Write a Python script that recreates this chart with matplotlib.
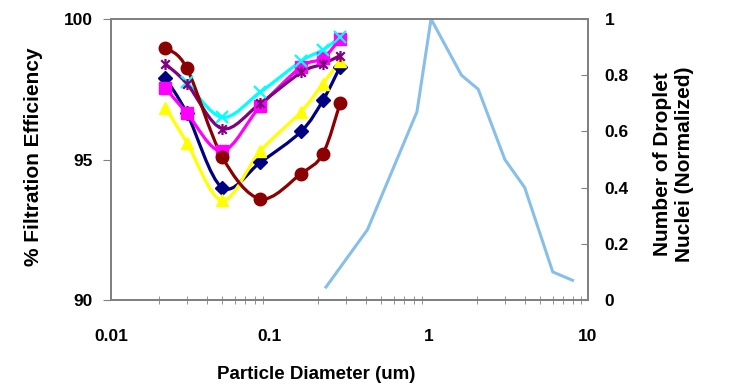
import numpy as np
import matplotlib.pyplot as plt
from matplotlib.path import Path
from matplotlib.patches import PathPatch
from matplotlib.ticker import FixedLocator, LogLocator, NullFormatter

plt.rcParams['font.family'] = ['Liberation Sans', 'DejaVu Sans']
plt.rcParams['font.weight'] = 'bold'

# particle sizes (um) for the filtration curves
diam = [0.022, 0.030, 0.050, 0.087, 0.157, 0.215, 0.276]

eff_navy = [97.9, 96.65, 94.0, 94.9, 96.0, 97.1, 98.3]
eff_magenta = [97.55, 96.65, 95.3, 96.9, 98.3, 98.6, 99.3]
eff_yellow = [96.85, 95.6, 93.55, 95.3, 96.7, 97.7, 98.5]
eff_cyan = [97.75, 96.5, 97.4, 98.5, 98.9, 99.35]   # starts at 2nd size
eff_purple = [98.4, 97.7, 96.1, 97.0, 98.1, 98.4, 98.7]
eff_maroon = [98.97, 98.25, 95.1, 93.6, 94.5, 95.2, 97.0]

# droplet nuclei distribution (right axis)
nuc_d = [0.225, 0.41, 0.84, 1.03, 1.6, 2.04, 3.0, 4.0, 6.0, 8.0]
nuc_n = [0.046, 0.25, 0.67, 1.0, 0.80, 0.75, 0.50, 0.40, 0.10, 0.07]

grey = '#808080'

# asterisk marker like excel: x plus vertical bar
star = Path([(-1, -1), (1, 1), (-1, 1), (1, -1), (0, -1.3), (0, 1.3)],
            [Path.MOVETO, Path.LINETO, Path.MOVETO, Path.LINETO, Path.MOVETO, Path.LINETO])


def smooth_path(xs, ys):
    # excel style smoothed line, built in (log x, y) space
    lx = np.log10(xs)
    ys = np.asarray(ys, float)
    n = len(lx)
    verts = [(lx[0], ys[0])]
    codes = [Path.MOVETO]
    for i in range(n - 1):
        i0 = max(i - 1, 0)
        i3 = min(i + 2, n - 1)
        c1 = (lx[i] + (lx[i + 1] - lx[i0]) / 6, ys[i] + (ys[i + 1] - ys[i0]) / 6)
        c2 = (lx[i + 1] - (lx[i3] - lx[i]) / 6, ys[i + 1] - (ys[i3] - ys[i]) / 6)
        verts += [c1, c2, (lx[i + 1], ys[i + 1])]
        codes += [Path.CURVE4] * 3
    verts = [(10 ** vx, vy) for vx, vy in verts]
    return Path(verts, codes)


fig = plt.figure(figsize=(7.46, 3.87), dpi=100)
ax = fig.add_axes([111 / 746, 1 - 300 / 387, 477 / 746, 281 / 387])
ax2 = ax.twinx()

# secondary series first so the filtration curves sit on top
ax2.plot(nuc_d, nuc_n, color='#88BFE8', lw=2.2)
ax.set_zorder(ax2.get_zorder() + 1)
ax.patch.set_visible(False)

series = [
    (diam, eff_navy, '#000080', 'D', 7),
    (diam, eff_magenta, '#FF00FF', 's', 8.5),
    (diam, eff_yellow, '#FFFF00', '^', 9),
    (diam[1:], eff_cyan, '#00FFFF', 'x', 8),
    (diam, eff_purple, '#800080', star, 8),
    (diam, eff_maroon, '#8B0000', 'o', 9),
]
for xs, ys, c, m, ms in series:
    ax.add_patch(PathPatch(smooth_path(xs, ys), facecolor='none', edgecolor=c, lw=2.3))
    if m in ('x',) or m is star:
        ax.plot(xs, ys, ls='none', marker=m, ms=ms, mec=c, mew=1.6)
    else:
        ax.plot(xs, ys, ls='none', marker=m, ms=ms, color=c, mec=c)

ax.set_xscale('log')
ax.set_xlim(0.01, 10)
ax.set_ylim(90, 100)
ax2.set_ylim(0, 1)

ax.yaxis.set_major_locator(FixedLocator([90, 95, 100]))
ax.xaxis.set_major_locator(FixedLocator([0.01, 0.1, 1, 10]))
ax.xaxis.set_major_formatter(plt.FixedFormatter(['0.01', '0.1', '1', '10']))
ax.xaxis.set_minor_locator(LogLocator(base=10, subs=np.arange(2, 10)))
ax.xaxis.set_minor_formatter(NullFormatter())
ax2.yaxis.set_major_locator(FixedLocator([0, 0.2, 0.4, 0.6, 0.8, 1]))
ax2.set_yticklabels(['0', '0.2', '0.4', '0.6', '0.8', '1'])

for a in (ax, ax2):
    for s in a.spines.values():
        s.set_color(grey)
        s.set_linewidth(1.3)

ax.tick_params(axis='y', direction='out', length=6, color=grey, labelsize=12.5, pad=7)
ax.tick_params(axis='x', which='both', direction='inout', length=6, color=grey,
               labelsize=12.5, pad=21)
ax.tick_params(axis='x', which='major', length=0)
ax2.tick_params(axis='y', direction='in', length=5, color=grey, labelsize=12.5, pad=12)

ax.set_ylabel('% Filtration Efficiency', fontsize=15, fontweight='bold')
ax.yaxis.set_label_coords(-0.1426, 0.509)
ax.set_xlabel('Particle Diameter (um)', fontsize=13.5, fontweight='bold')
ax.xaxis.set_label_coords(0.43, -0.235)
ax2.set_ylabel('Number of Droplet\nNuclei (Normalized)', fontsize=15,
               fontweight='bold', linespacing=1.2)
ax2.yaxis.set_label_coords(1.136, 0.484)

fig.savefig('out.png', dpi=100)
